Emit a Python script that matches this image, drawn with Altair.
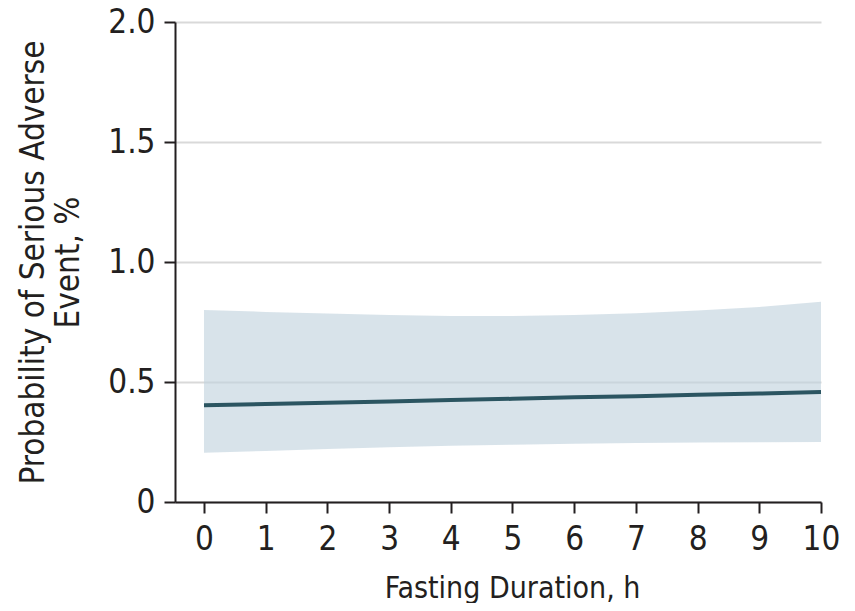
import altair as alt
import pandas as pd

hours = [0, 1, 2, 3, 4, 5, 6, 7, 8, 9, 10]
prob = [0.403, 0.408, 0.414, 0.419, 0.425, 0.430, 0.436, 0.441, 0.447, 0.452, 0.458]
upper = [0.800, 0.792, 0.785, 0.779, 0.775, 0.775, 0.779, 0.786, 0.798, 0.813, 0.834]
lower = [0.205, 0.213, 0.221, 0.228, 0.234, 0.239, 0.243, 0.246, 0.248, 0.249, 0.250]
x_ticks = [0, 1, 2, 3, 4, 5, 6, 7, 8, 9, 10]
y_ticks = [0, 0.5, 1.0, 1.5, 2.0]

df = pd.DataFrame({"h": hours, "p": prob, "lo": lower, "hi": upper})

FONT = "DejaVu Sans Condensed, sans-serif"
TXT = "#231f20"

xs = alt.Scale(domain=[-0.47, 10], nice=False, zero=False)
ys = alt.Scale(domain=[0, 2], nice=False)

xaxis = alt.Axis(values=x_ticks, title="Fasting Duration, h", grid=False, format="d",
                 labelOverlap=False, labelFlush=False,
                 labelFontSize=33, titleFontSize=30, labelFont=FONT, titleFont=FONT,
                 labelColor=TXT, titleColor=TXT, domainColor=TXT, tickColor=TXT,
                 domainWidth=2, tickWidth=2, tickSize=11, labelPadding=10,
                 titleFontWeight="normal", titleX=337, titleY=95,
                 titleBaseline="alphabetic", titleAlign="center")
yaxis = alt.Axis(values=y_ticks, title=["Probability of Serious Adverse", "Event, %"],
                 grid=True, gridColor="#d9d9d9", gridWidth=2,
                 labelOverlap=False, labelFlush=False,
                 labelExpr="datum.value == 0 ? '0' : format(datum.value, '.1f')",
                 labelFontSize=33, titleFontSize=33, labelFont=FONT, titleFont=FONT,
                 labelColor=TXT, titleColor=TXT, domainColor=TXT, tickColor=TXT,
                 domainWidth=2, tickWidth=2, tickSize=11, labelPadding=9,
                 titleFontWeight="normal", titleAngle=-90, titleX=-132, titleY=240,
                 titleAlign="center", titleBaseline="alphabetic", titleLineHeight=35)

band = alt.Chart(df).mark_area(color="#c1d2dd", opacity=0.63).encode(
    x=alt.X("h:Q", scale=xs, axis=xaxis),
    y=alt.Y("lo:Q", scale=ys, axis=yaxis),
    y2="hi:Q",
)
line = alt.Chart(df).mark_line(color="#2b5561", strokeWidth=4).encode(
    x=alt.X("h:Q", scale=xs),
    y=alt.Y("p:Q", scale=ys),
)

chart = (band + line).properties(
    width=646, height=480,
    autosize=alt.AutoSizeParams(type="none"),
    padding={"left": 167, "top": 14, "right": 25, "bottom": 101},
).configure_view(stroke=None)

chart.save("out.html", embed_options={"renderer": "svg", "actions": False})
